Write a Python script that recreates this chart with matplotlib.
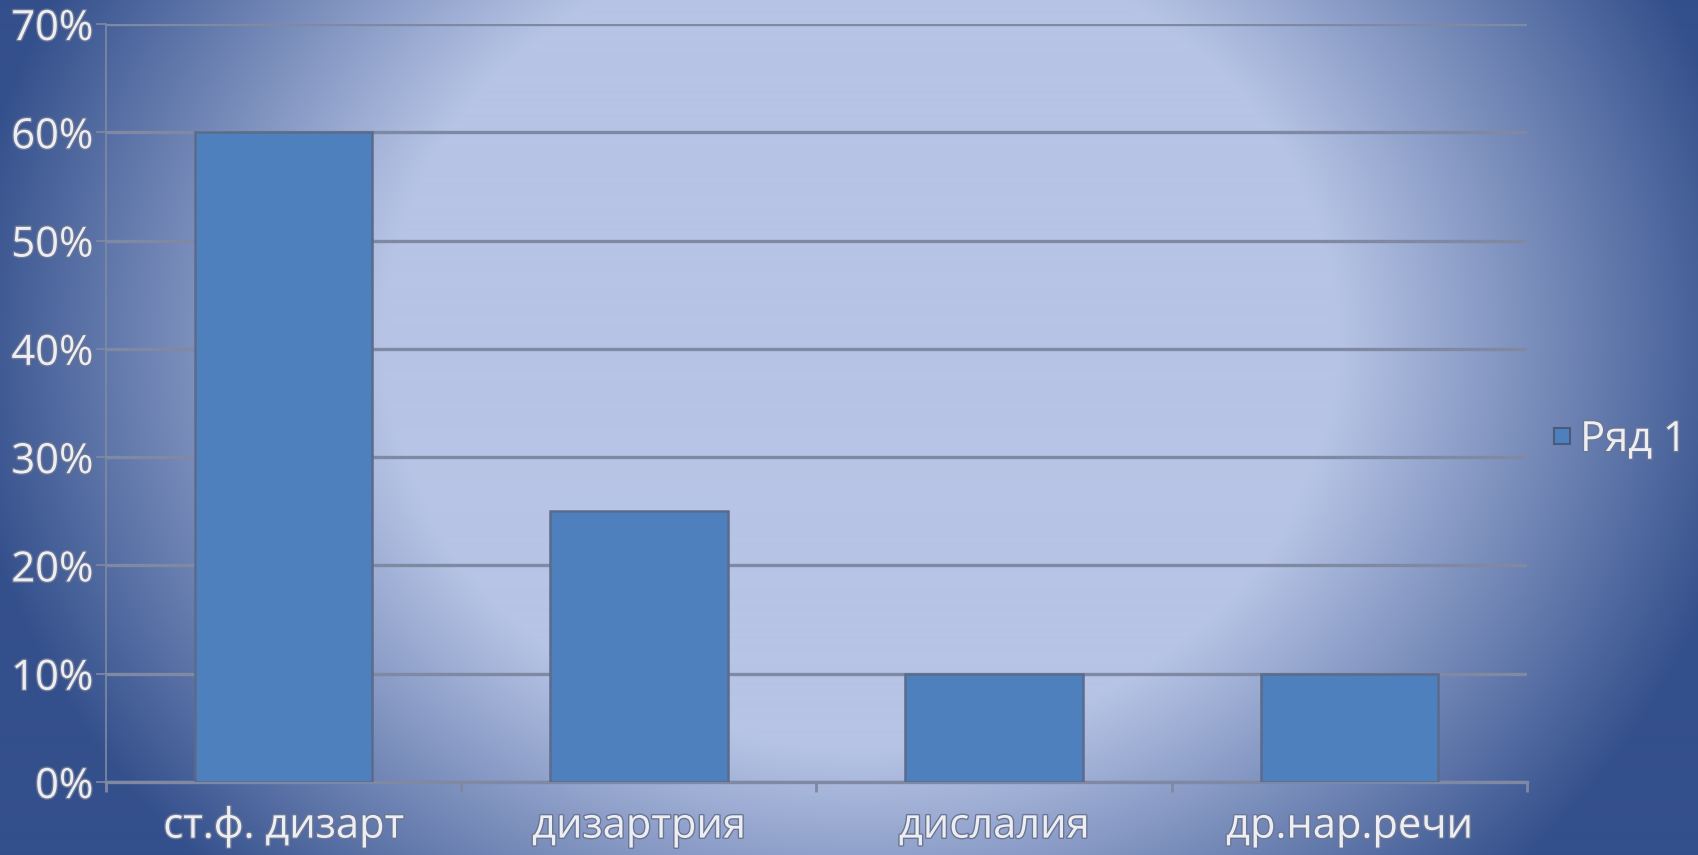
import numpy as np
import matplotlib
matplotlib.use("Agg")
import matplotlib.pyplot as plt
import matplotlib.patheffects as pe
from matplotlib.colors import to_rgb
from matplotlib.lines import Line2D
from matplotlib.ticker import FixedLocator, PercentFormatter

# chart data
CATEGORIES = ["ст.ф. дизарт", "дизартрия", "дислалия", "др.нар.речи"]
VALUES = [60, 25, 10, 10]
SERIES_NAME = "Ряд 1"
Y_TICKS = [0, 10, 20, 30, 40, 50, 60, 70]

# style
W, H, DPI = 1699, 855, 100
BAR_COLOR = "#4e80bd"
BAR_EDGE = "#5b6b8c"
GRID_COLOR = "#7f89a3"
TEXT_COLOR = "#eceef2"
FONT_SIZE = 30
LIGHT = np.array(to_rgb("#b7c4e5"))
DARK = np.array(to_rgb("#34508c"))

plt.rcParams["font.family"] = ["Open Sans", "DejaVu Sans"]

fig = plt.figure(figsize=(W / DPI, H / DPI), dpi=DPI)

# radial background gradient: wide light centre, darker edges
bg_ax = fig.add_axes([0, 0, 1, 1], zorder=-10)
xx, yy = np.meshgrid(np.arange(W), np.arange(H))
r = np.sqrt(((xx - 860) / 850.0) ** 2 + ((yy - 340) / 725.0) ** 2)
t = np.clip((r - 0.56) / 0.5, 0, 1)
img = LIGHT[None, None, :] * (1 - t[..., None]) + DARK[None, None, :] * t[..., None]
bg_ax.imshow(img, aspect="auto", extent=[0, W, H, 0])
bg_ax.axis("off")

ax = fig.add_axes([106 / W, (H - 782) / H, (1527 - 106) / W, (782 - 24) / H])
ax.patch.set_alpha(0)

x = np.arange(len(CATEGORIES))
ax.bar(x, VALUES, width=0.5, color=BAR_COLOR, edgecolor=BAR_EDGE,
       linewidth=1.8, zorder=3)

ax.set_xlim(-0.5, len(CATEGORIES) - 0.5)
ax.set_ylim(0, 70)
ax.yaxis.set_major_locator(FixedLocator(Y_TICKS))
ax.yaxis.set_major_formatter(PercentFormatter(decimals=0))
ax.grid(axis="y", color=GRID_COLOR, linewidth=2.4, zorder=1)
ax.set_axisbelow(True)

ax.set_xticks(x)
ax.set_xticklabels(CATEGORIES)
ax.set_xticks(np.arange(-0.5, len(CATEGORIES)), minor=True)
ax.tick_params(axis="x", which="major", length=0, pad=17)
ax.tick_params(axis="x", which="minor", length=7, width=2, color=GRID_COLOR)
ax.tick_params(axis="y", length=7, width=1.2, color=GRID_COLOR, pad=2)

for side in ["top", "right"]:
    ax.spines[side].set_visible(False)
ax.spines["left"].set_color(GRID_COLOR)
ax.spines["left"].set_linewidth(1.2)
ax.spines["bottom"].set_color(GRID_COLOR)
ax.spines["bottom"].set_linewidth(2.4)

effects = [pe.withStroke(linewidth=2, foreground="#6b7595")]
for lab in ax.get_yticklabels() + ax.get_xticklabels():
    lab.set_fontsize(FONT_SIZE)
    lab.set_color(TEXT_COLOR)
    lab.set_path_effects(effects)

handle = Line2D([], [], marker="s", linestyle="none", markersize=11,
                markerfacecolor=BAR_COLOR, markeredgecolor="#4a5a7c",
                markeredgewidth=1.5)
leg = fig.legend([handle], [SERIES_NAME], loc="center left",
                 bbox_to_anchor=(1553 / W, (H - 440) / H),
                 frameon=False, fontsize=FONT_SIZE, handlelength=0.45,
                 handletextpad=0.2, borderaxespad=0, borderpad=0)
for txt in leg.get_texts():
    txt.set_color(TEXT_COLOR)
    txt.set_path_effects(effects)

fig.savefig("out.png", dpi=DPI)
